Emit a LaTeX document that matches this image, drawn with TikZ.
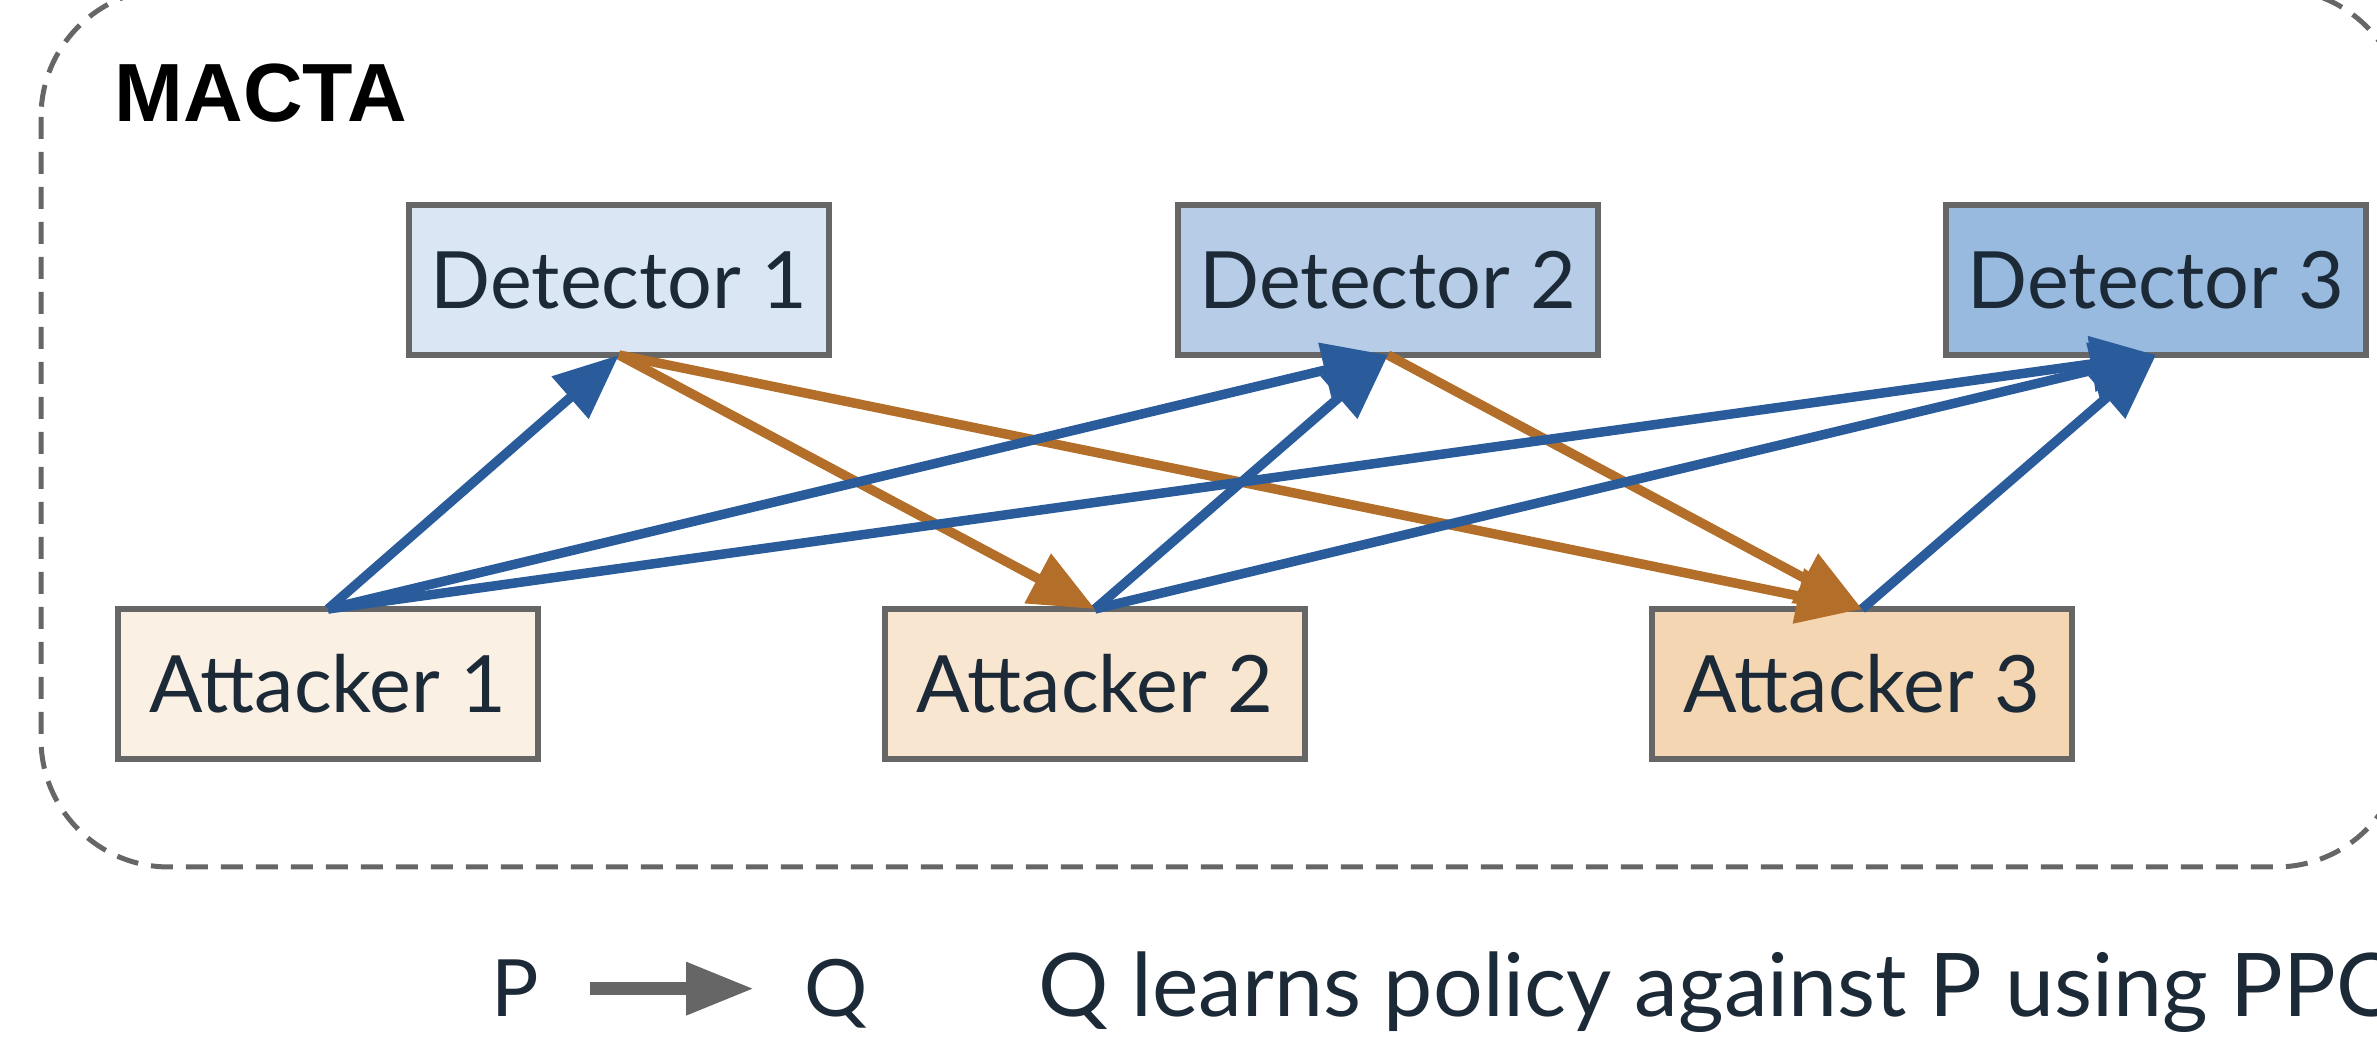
\documentclass[tikz,border=0pt]{standalone}
\usepackage{fontspec}
\setmainfont{Lato}
\newfontfamily\titlefont{Liberation Sans}
\usepackage{xcolor}
\usetikzlibrary{arrows.meta,positioning}

\definecolor{detA}{HTML}{DAE6F3}
\definecolor{detB}{HTML}{B7CDE7}
\definecolor{detC}{HTML}{98BADF}
\definecolor{attA}{HTML}{FAF0E3}
\definecolor{attB}{HTML}{F9E6D0}
\definecolor{attC}{HTML}{F5D6B3}
\definecolor{edgeblue}{HTML}{2A5C9C}
\definecolor{edgeorange}{HTML}{B36F29}
\definecolor{boxline}{HTML}{666666}
\definecolor{labeltext}{HTML}{1C2A38}

\begin{document}
\begin{tikzpicture}[
  >={Triangle[length=6.5mm,width=5.4mm]},
  font=\fontsize{22.5}{27}\selectfont,
  box/.style={draw=boxline, line width=0.06cm, outer sep=0pt, inner sep=0pt, minimum width=4.2cm, minimum height=1.5cm, text=labeltext},
  blueedge/.style={->, line width=0.095cm, draw=edgeblue},
  orangeedge/.style={->, line width=0.095cm, draw=edgeorange},
  legendarrow/.style={-{Triangle[length=6.8mm,width=5mm]}, line width=0.13cm, draw=boxline}
]
\useasboundingbox (0,0) rectangle (23.77,-10.43);

% dashed frame round the whole system
\draw[boxline, line width=0.05cm, dash pattern=on 2.2mm off 1.3mm, rounded corners=1.28cm] (0.41,0.11) rectangle (24.04,-8.67);
\node[font=\titlefont\bfseries\fontsize{23.5}{28}\selectfont, anchor=base west, inner sep=0pt] (title) at (1.14,-1.22) {MACTA};

\node[box, fill=detA] (det1) at (6.19,-2.80) {Detector 1};
\node[box, fill=detB] (det2) at (13.88,-2.80) {Detector 2};
\node[box, fill=detC] (det3) at (21.56,-2.80) {Detector 3};
\node[box, fill=attA] (att1) at (3.28,-6.84) {Attacker 1};
\node[box, fill=attB] (att2) at (10.95,-6.84) {Attacker 2};
\node[box, fill=attC] (att3) at (18.62,-6.84) {Attacker 3};

\draw[orangeedge] (det1.south) -- (att2.north);
\draw[orangeedge] (det1.south) -- (att3.north);
\draw[orangeedge] (det2.south) -- (att3.north);
\draw[blueedge] (att1.north) -- (det1.south);
\draw[blueedge] (att1.north) -- (det2.south);
\draw[blueedge] (att1.north) -- (det3.south);
\draw[blueedge] (att2.north) -- (det2.south);
\draw[blueedge] (att2.north) -- (det3.south);
\draw[blueedge] (att3.north) -- (det3.south);

% legend
\node[anchor=base west, inner sep=0pt, text=labeltext] (legp) at (4.91,-10.17) {P};
\node[anchor=base west, inner sep=0pt, text=labeltext] (legq) at (8.04,-10.17) {Q};
\draw[legendarrow, shorten <=0.5cm, shorten >=0.5cm] (legp.east) -- (legq.west |- legp.east);
\node[anchor=base west, inner sep=0pt, text=labeltext, font=\fontsize{25}{30}\selectfont] (legtext) at (10.38,-10.17) {Q learns policy against P using PPO};
\end{tikzpicture}
\end{document}
